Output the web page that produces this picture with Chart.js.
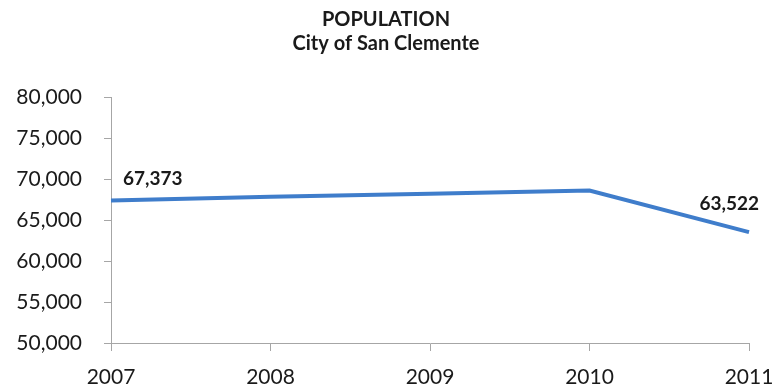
<!DOCTYPE html>
<html>
<head>
<meta charset="utf-8">
<title>Population - City of San Clemente</title>
<script src="https://cdn.jsdelivr.net/npm/chart.js@4"></script>
<style>
  html, body { margin: 0; padding: 0; background: #fff; }
  #wrap { width: 772px; height: 390px; }
</style>
</head>
<body>
<div id="wrap"><canvas id="popChart"></canvas></div>
<script>
const years = ["2007", "2008", "2009", "2010", "2011"];
const population = [67373, 67850, 68200, 68600, 63522];
const labelledPoints = [0, 4]; // only first and last get a value label

const fmt = (v) => v.toLocaleString("en-US");

// draws the bold value labels next to the first and last points
const valueLabels = {
  id: "valueLabels",
  afterDatasetsDraw(chart) {
    const ctx = chart.ctx;
    const meta = chart.getDatasetMeta(0);
    ctx.save();
    ctx.font = "bold 19px Lato";
    ctx.fillStyle = "#1a1a1a";
    ctx.textBaseline = "bottom";
    labelledPoints.forEach((i) => {
      const pt = meta.data[i];
      if (i === 0) {
        ctx.textAlign = "left";
        ctx.fillText(fmt(population[i]), pt.x + 12, pt.y - 12);
      } else {
        ctx.textAlign = "right";
        ctx.fillText(fmt(population[i]), pt.x + 10, pt.y - 19);
      }
    });
    ctx.restore();
  },
};

const ctx = document.getElementById("popChart").getContext("2d");
new Chart(ctx, {
  type: "line",
  data: {
    labels: years,
    datasets: [
      {
        label: "Population",
        data: population,
        borderColor: "#3f7dcb",
        borderWidth: 4,
        pointRadius: 0,
        tension: 0,
        fill: false,
      },
    ],
  },
  options: {
    responsive: true,
    maintainAspectRatio: false,
    animation: false,
    layout: {
      padding: { left: 0, right: 0, top: 6, bottom: 0 },
    },
    scales: {
      x: {
        offset: false,
        border: { color: "#a6a6a6", width: 1 },
        grid: {
          display: true,
          drawOnChartArea: false,
          drawTicks: true,
          tickLength: 8,
          color: "#a6a6a6",
        },
        ticks: {
          color: "#1a1a1a",
          font: { family: "Lato", size: 21 },
          padding: 14,
          maxRotation: 0,
        },
        afterFit(scale) {
          scale.height = 47;
          scale.paddingRight = 23;
        },
      },
      y: {
        min: 50000,
        max: 80000,
        border: { color: "#a6a6a6", width: 1 },
        grid: {
          display: true,
          drawOnChartArea: false,
          drawTicks: true,
          tickLength: 7,
          color: "#a6a6a6",
        },
        ticks: {
          stepSize: 5000,
          color: "#1a1a1a",
          font: { family: "Lato", size: 21 },
          padding: 22,
          callback: (v) => fmt(v),
        },
        afterFit(scale) {
          scale.width = 111;
        },
      },
    },
    plugins: {
      legend: { display: false },
      tooltip: { enabled: false },
      title: {
        display: true,
        text: ["POPULATION", "City of San Clemente"],
        color: "#1a1a1a",
        font: { family: "Lato", size: 20, weight: "bold", lineHeight: 1.2 },
        padding: { top: 2, bottom: 41 },
      },
    },
  },
  plugins: [valueLabels],
});
</script>
</body>
</html>
